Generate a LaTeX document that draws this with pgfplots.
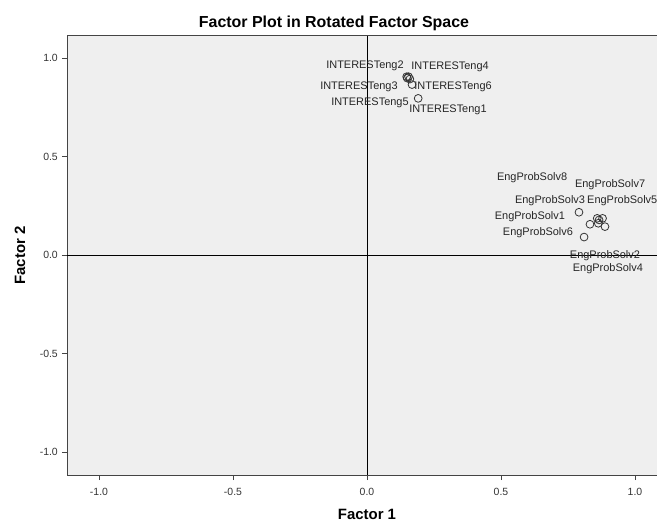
\documentclass[border=0pt]{standalone}
\usepackage{pgfplots}
\pgfplotsset{compat=1.18}
\usepackage{fontspec}
\setmainfont{Liberation Sans}
\definecolor{bgc}{HTML}{EFEFEF}
\definecolor{frm}{HTML}{444444}
\begin{document}
\begin{tikzpicture}
\begin{axis}[
  scale only axis,
  width=590bp, height=439.3bp,
  xmin=-1.1194, xmax=1.0821,
  ymin=-1.1168, ymax=1.1132,
  axis background/.style={fill=bgc},
  axis line style={draw=none},
  tick pos=left,
  tick align=outside,
  major tick length=5bp,
  tick style={frm, line width=0.8pt},
  xtick={-1,-0.5,0,0.5,1},
  ytick={-1,-0.5,0,0.5,1},
  /pgf/number format/assume math mode=true,
  /pgf/number format/fixed,
  /pgf/number format/fixed zerofill,
  /pgf/number format/precision=1,
  ticklabel style={font=\fontsize{10.5}{12}\selectfont, text=black!80},
  xticklabel style={anchor=center, yshift=-12bp, inner sep=0pt},
  yticklabel style={anchor=east, xshift=-4bp, inner sep=0pt},
  clip=false,
]
\fill[bgc] (rel axis cs:0,0) rectangle (rel axis cs:1,1);
\draw[frm, line width=0.9pt] (rel axis cs:1,1) -- (rel axis cs:0,1) -- (rel axis cs:0,0) -- (rel axis cs:1,0);
\draw[black, line width=0.9pt] (axis cs:0,-1.1168) -- (axis cs:0,1.1132);
\draw[black, line width=0.9pt] (axis cs:-1.1194,0) -- (axis cs:1.0821,0);
\addplot[only marks, mark=o, mark size=3.9bp, mark options={black!80, line width=0.8pt}] coordinates {
  (0.191,0.795) (0.148,0.905) (0.160,0.893) (0.155,0.905) (0.150,0.898) (0.168,0.865)
  (0.791,0.217) (0.810,0.091) (0.832,0.156) (0.859,0.186) (0.863,0.161) (0.879,0.186) (0.888,0.144) (0.866,0.178)
};
\begin{scope}[every node/.style={font=\fontsize{11}{13}\selectfont, inner sep=0pt, text=black!85}]
\node at (axis cs:-0.0075,0.959) {INTERESTeng2};
\node at (axis cs:0.310,0.954) {INTERESTeng4};
\node at (axis cs:-0.030,0.853) {INTERESTeng3};
\node at (axis cs:0.321,0.853) {INTERESTeng6};
\node at (axis cs:0.011,0.772) {INTERESTeng5};
\node at (axis cs:0.302,0.736) {INTERESTeng1};
\node at (axis cs:0.616,0.391) {EngProbSolv8};
\node at (axis cs:0.907,0.355) {EngProbSolv7};
\node at (axis cs:0.683,0.274) {EngProbSolv3};
\node[anchor=west] at (axis cs:0.821,0.274) {EngProbSolv5};
\node at (axis cs:0.608,0.193) {EngProbSolv1};
\node at (axis cs:0.638,0.112) {EngProbSolv6};
\node at (axis cs:0.888,-0.005) {EngProbSolv2};
\node at (axis cs:0.899,-0.071) {EngProbSolv4};
\end{scope}
\end{axis}
\node[font=\fontsize{16}{18}\selectfont\bfseries, anchor=base] at ([xshift=267bp, yshift=447bp]current axis.south west) {Factor Plot in Rotated Factor Space};
\node[font=\fontsize{15}{17}\selectfont\bfseries] at ([xshift=300bp, yshift=-39bp]current axis.south west) {Factor 1};
\node[font=\fontsize{15}{17}\selectfont\bfseries, rotate=90] at ([xshift=-47bp, yshift=219.6bp]current axis.south west) {Factor 2};
\pgfresetboundingbox
\path[use as bounding box] ([xshift=-67bp,yshift=-46bp]current axis.south west) rectangle ([xshift=590bp,yshift=475bp]current axis.south west);
\end{tikzpicture}
\end{document}
